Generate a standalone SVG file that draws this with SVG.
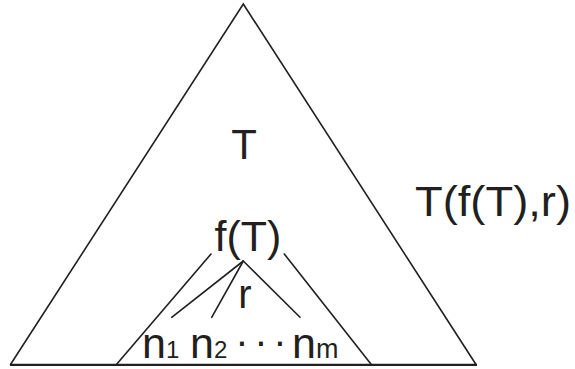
<svg xmlns="http://www.w3.org/2000/svg" width="575" height="369" viewBox="0 0 575 369">
<style>
.ln{stroke:#231f20;stroke-width:1.6;fill:none;stroke-linecap:round}
.base{stroke:#231f20;stroke-width:2.2;fill:none}
.t{font-family:"Liberation Sans",Arial,sans-serif;fill:#231f20}
</style>
<rect width="575" height="369" fill="#ffffff"/>
<g id="connectors">
<polyline class="ln" points="10.5,364.5 243.3,4 476,364.5"/>
<line class="base" x1="10" y1="364.8" x2="477" y2="364.8"/>
<line class="ln" x1="211" y1="254" x2="116" y2="365"/>
<line class="ln" x1="284.3" y1="254" x2="371.7" y2="365"/>
<line class="ln" x1="243.3" y1="261" x2="171.7" y2="317.3"/>
<line class="ln" x1="243.3" y1="261" x2="211.7" y2="317.3"/>
<line class="ln" x1="243.3" y1="261" x2="300" y2="317.3"/>
</g>
<g id="T">
<text class="t" x="244" y="159" font-size="42" text-anchor="middle">T</text>
</g>
<g id="fT">
<text class="t" x="248" y="251" font-size="43" text-anchor="middle">f(T)</text>
</g>
<g id="r">
<text class="t" x="245" y="308" font-size="40" text-anchor="middle">r</text>
</g>
<g id="leaves">
<text class="t" x="142" y="358" font-size="43">n<tspan font-size="24">1</tspan></text>
<text class="t" x="190" y="358" font-size="43">n<tspan font-size="24">2</tspan></text>
<text class="t" font-size="40" y="355" x="242 261 280" text-anchor="middle">···</text>
<text class="t" x="292" y="358" font-size="43">n<tspan font-size="27">m</tspan></text>
</g>
<g id="label">
<text class="t" x="415" y="216" font-size="42" textLength="156" lengthAdjust="spacingAndGlyphs">T(f(T),r)</text>
</g>
</svg>
